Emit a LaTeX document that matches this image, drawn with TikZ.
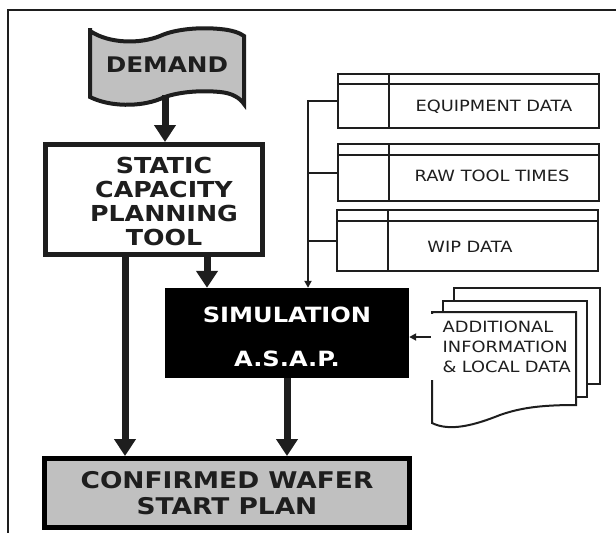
\documentclass[tikz,border=0pt]{standalone}
\usepackage{fontspec}
\usetikzlibrary{arrows.meta}
\newfontfamily\diagfont[FakeStretch=1.15]{DejaVu Sans}
\definecolor{inkgray}{HTML}{1E1E1E}
\definecolor{fillgray}{HTML}{C0C0C0}

\begin{document}
\begin{tikzpicture}[x=1pt,y=-1pt,
    bigarrow/.style={line width=7pt,color=inkgray,-{Triangle[width=21pt,length=17pt]}},
    smallarrow/.style={line width=2pt,color=inkgray,-{Triangle[width=7pt,length=7pt]}},
    dataline/.style={line width=2pt,color=inkgray},
    databox/.style={draw=inkgray,line width=2pt,fill=white,minimum width=261pt},
    datatext/.style={font=\diagfont\fontsize{15.5}{20}\selectfont,text=inkgray,inner sep=0pt},
    boldtext/.style={font=\diagfont\bfseries\fontsize{#1}{24}\selectfont,text=inkgray,align=center}]
  \useasboundingbox (0,0) rectangle (616,533);
  % Frame
  \draw[dataline] (616,10) -- (8,10) -- (8,533);
  % Demand flag
  \coordinate (dfoot) at (165,95);
  \draw[line width=4pt,color=inkgray,fill=fillgray]
    (90,28) -- (90,31) .. controls (110,44) and (140,44) .. (160,36)
    .. controls (175,29) and (200,27) .. (220,29)
    .. controls (232,30) and (240,33) .. (244,36) -- (244,104)
    .. controls (240,98) and (232,93) .. (220,92)
    .. controls (200,90) and (175,92) .. (160,99)
    .. controls (140,107) and (110,107) .. (90,97) -- cycle;
  \node[boldtext=21.5] (demand) at (167,64.5) {DEMAND};
  % Boxes
  \node[draw=inkgray,line width=5pt,fill=white,minimum width=217pt,minimum height=110pt,
        label={[name=statictext,boldtext=22,xshift=10pt,yshift=-2pt]center:{STATIC\\CAPACITY\\PLANNING\\TOOL}}]
        (static) at (154,199.5) {};
  \node[fill=black,minimum width=244pt,minimum height=90pt,
        label={[name=simtext,font=\diagfont\bfseries\fontsize{21}{44}\selectfont,text=white,align=center,yshift=-4pt]center:{SIMULATION\\A.S.A.P.}}]
        (sim) at (287,333) {};
  \node[draw=black,line width=5pt,fill=fillgray,minimum width=365pt,minimum height=69pt,
        boldtext=23,font=\diagfont\bfseries\fontsize{23}{26}\selectfont] (confirmed) at (227,493)
        {CONFIRMED WAFER\\START PLAN};
  % Main arrows
  \draw[bigarrow] (dfoot) -- (dfoot |- static.north);
  \coordinate (s1) at ([xshift=-29pt]static.south);
  \coordinate (s2) at ([xshift=53pt]static.south);
  \draw[bigarrow] (s1) -- (s1 |- confirmed.north);
  \draw[bigarrow] (s2) -- (s2 |- sim.north);
  \draw[bigarrow] (sim.south) -- (sim.south |- confirmed.north);
  % Data tables
  \node[databox,minimum height=54pt] (equip) at (468.5,101) {};
  \node[databox,minimum height=57pt] (raw) at (468.5,172.5) {};
  \node[databox,minimum height=61pt] (wip) at (467.5,240.5) {};
  \foreach \b/\h in {equip/11,raw/12,wip/12} {
    \draw[dataline] ([yshift=-\h pt]\b.north west) -- ([yshift=-\h pt]\b.north east);
    \draw[dataline] ([xshift=52pt]\b.north west) -- ([xshift=52pt]\b.south west);
  }
  \node[datatext] (equiptext) at (494,107) {EQUIPMENT DATA};
  \node[datatext] (rawtext) at (492,176) {RAW TOOL TIMES};
  \node[datatext] (wiptext) at (470,247) {WIP DATA};
  % Bus to simulation
  \coordinate (bus) at (308,0);
  \draw[smallarrow] (equip.west) -| (bus |- sim.north);
  \draw[dataline] (raw.west) -- (raw.west -| bus);
  \draw[dataline] (wip.west) -- (wip.west -| bus);
  % Document stack
  \draw[dataline,fill=white] (454,288) rectangle (600,384);
  \draw[dataline,fill=white] (443,301) rectangle (587,397);
  \draw[dataline,fill=white] (432,312) -- (576,312) -- (576,405)
    .. controls (540,405) and (520,408) .. (500,415)
    .. controls (475,425) and (450,432) .. (432,423) -- cycle;
  \node[datatext,fill=white,anchor=west,text width=142pt,inner xsep=1pt,
        minimum height=66pt,align=left] (addinfo) at (430.5,347)
        {\hspace*{11pt}ADDITIONAL\\\hspace*{11pt}INFORMATION\\\hspace*{11pt}\& LOCAL DATA};
  \draw[smallarrow] ([yshift=10pt]addinfo.west) -- ([yshift=10pt]addinfo.west -| sim.east);
\end{tikzpicture}
\end{document}
